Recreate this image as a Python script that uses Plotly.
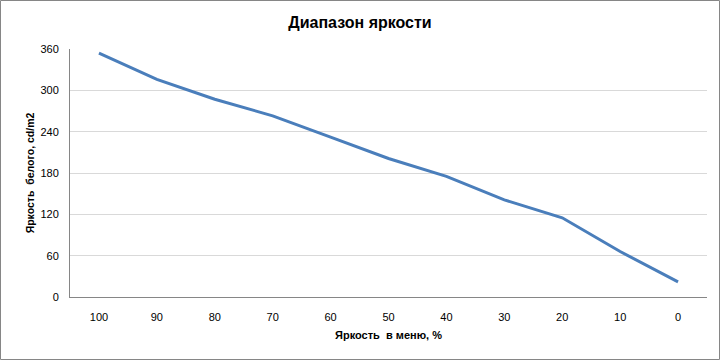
import plotly.graph_objects as go

categories = ["100", "90", "80", "70", "60", "50", "40", "30", "20", "10", "0"]
luminance = [354, 316, 287, 263, 232, 201, 175, 141, 115, 66, 22]
y_ticks = [0, 60, 120, 180, 240, 300, 360]

L, R, T, B = 70, 13, 49, 63
W, H = 720, 360
pw, ph = W - L - R, H - T - B

fig = go.Figure()
fig.add_trace(go.Scatter(
    x=categories, y=luminance, mode="lines",
    line=dict(color="#4A7EBB", width=3),
    showlegend=False, hoverinfo="skip",
))

font_family = "Liberation Sans, Arial, sans-serif"

fig.update_layout(
    width=W, height=H,
    margin=dict(l=L, r=R, t=T, b=B),
    paper_bgcolor="white", plot_bgcolor="white",
    font=dict(family=font_family, size=11, color="#000000"),
    title=dict(text="<b>Диапазон яркости</b>", x=360 / W, xref="container",
               xanchor="center", y=1 - 22 / H, yref="container", yanchor="middle",
               font=dict(size=16, color="#000000")),
    xaxis=dict(
        type="category", categoryorder="array", categoryarray=categories,
        range=[-0.5, len(categories) - 0.5],
        showgrid=False, showline=True, linecolor="#868686", linewidth=1,
        ticks="", tickfont=dict(size=11), ticklabelstandoff=10,
        title=dict(text="<b>Яркость\u00a0 в меню, %</b>", font=dict(size=11), standoff=9),
        zeroline=False,
    ),
    yaxis=dict(
        range=[0, 360], tickvals=y_ticks, showgrid=True, gridcolor="#D9D9D9",
        gridwidth=1, showline=True, linecolor="#868686", linewidth=1,
        ticks="", tickfont=dict(size=11), ticklabelstandoff=8, zeroline=False,
        title=dict(text="<b>Яркость\u00a0 белого, cd/m2</b>", font=dict(size=10.5), standoff=3),
    ),
    shapes=[dict(
        type="rect", xref="paper", yref="paper",
        x0=(0.5 - L) / pw, x1=(W - 0.5 - L) / pw,
        y0=(H - B - (H - 0.5)) / ph, y1=(H - B - 0.5) / ph,
        line=dict(color="#868686", width=1), fillcolor="rgba(0,0,0,0)",
    )],
)

fig.write_html("out.html")
